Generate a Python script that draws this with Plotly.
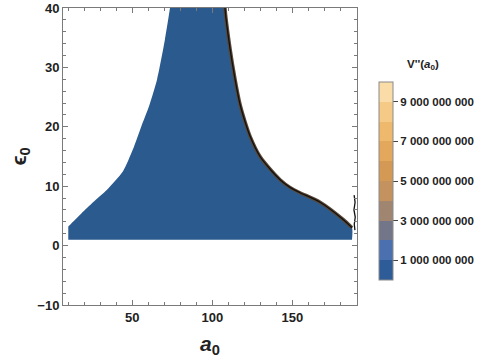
import plotly.graph_objects as go

# ---- data (a0, epsilon0) ----
left_a = [10.0, 10.0, 10.0, 19.2, 26.7, 34.2, 44.2, 50.4, 55.4, 60.5, 65.5, 70.4, 73.6, 74.0]
left_e = [1.0, 3.2, 3.2, 5.7, 7.6, 9.4, 12.5, 16.2, 19.9, 23.5, 28.0, 34.7, 40.1, 41.0]
right_a = [108.0, 107.9, 111.1, 114.2, 117.3, 120.4, 123.6, 129.8, 136.0, 142.3, 148.5,
           154.8, 167.3, 181.7, 187.3]
right_e = [41.0, 40.1, 33.1, 28.0, 23.8, 20.9, 18.4, 15.0, 12.9, 11.1, 9.8,
           8.9, 7.3, 4.4, 3.0]
base_e = 1.0
squig_a = [188.6, 189.2, 188.5, 189.3, 188.7, 189.1]
squig_e = [8.5, 7.3, 6.0, 4.8, 3.6, 2.6]

# colour levels of V''(a0)
levels = [0, 1e9, 2e9, 3e9, 4e9, 5e9, 6e9, 7e9, 8e9, 9e9, 1e10]
band_colors = ['#2e5c99', '#4a70b0', '#737689', '#a08570', '#c4925e',
               '#d49a55', '#e4a85c', '#eeb96d', '#f5ca86', '#f9dca7']
tick_vals = [1e9, 3e9, 5e9, 7e9, 9e9]
tick_text = ['1 000 000 000', '3 000 000 000', '5 000 000 000',
             '7 000 000 000', '9 000 000 000']
fill_color = '#2b5a8e'

W, H = 480, 362
ml, mr, mt, mb = 63, 123, 8, 57
pw, ph = W - ml - mr, H - mt - mb

fig = go.Figure()

poly_a = left_a + right_a + [right_a[-1], right_a[-1], left_a[0], left_a[0]]
poly_e = left_e + right_e + [base_e, base_e, base_e, base_e]
fig.add_trace(go.Scatter(x=poly_a, y=poly_e, fill='toself', fillcolor=fill_color,
                         mode='lines', line=dict(width=0, color=fill_color, shape='spline', smoothing=0.6),
                         hoverinfo='skip', showlegend=False))
fig.add_trace(go.Scatter(x=right_a, y=right_e, mode='lines',
                         line=dict(color='#5a4838', width=3.5, shape='spline', smoothing=0.6),
                         hoverinfo='skip', showlegend=False))
fig.add_trace(go.Scatter(x=right_a, y=right_e, mode='lines',
                         line=dict(color='#111111', width=1.3, shape='spline', smoothing=0.6),
                         hoverinfo='skip', showlegend=False))
fig.add_trace(go.Scatter(x=squig_a, y=squig_e, mode='lines',
                         line=dict(color='#111111', width=1.3), hoverinfo='skip', showlegend=False))

# stepped colour scale for the legend bar
zmin, zmax = levels[0], levels[-1]
cs = []
for i, c in enumerate(band_colors):
    cs.append([(levels[i] - zmin) / (zmax - zmin), c])
    cs.append([(levels[i + 1] - zmin) / (zmax - zmin), c])

bar_x = (379 - ml) / pw
bar_y = (305 - 280) / ph
bar_len = 198
bar_th = 14
fig.add_trace(go.Heatmap(
    x=[0, 1], y=[-60, -59], z=[[zmin, zmax], [zmin, zmax]],
    zmin=zmin, zmax=zmax, colorscale=cs, hoverinfo='skip',
    colorbar=dict(x=bar_x, xanchor='left', y=bar_y, yanchor='bottom',
                  len=bar_len, lenmode='pixels', thickness=bar_th, thicknessmode='pixels',
                  xpad=0, ypad=0, outlinewidth=1, outlinecolor='#8a8a8a',
                  tickvals=tick_vals, ticktext=tick_text, ticks='outside', ticklen=5,
                  tickcolor='#444', tickwidth=1,
                  tickfont=dict(family='Liberation Sans', size=11.5, color='#222', weight='bold'))))

shapes = []
for lv in levels[1:-1]:
    yp = bar_y + (lv - zmin) / (zmax - zmin) * bar_len / ph
    shapes.append(dict(type='line', xref='paper', yref='paper', x0=bar_x, x1=bar_x + bar_th / pw,
                       y0=yp, y1=yp, line=dict(color='#505050', width=1)))

tickfont = dict(family='Liberation Sans', size=13, color='#222', weight='bold')
axis_common = dict(showgrid=False, zeroline=False, showline=True, linecolor='#7a7a7a', linewidth=1,
                   mirror='ticks', ticks='inside', tickcolor='#7a7a7a', tickwidth=1, ticklen=5,
                   tickfont=tickfont)

fig.update_layout(
    width=W, height=H, margin=dict(l=ml, r=mr, t=mt, b=mb, autoexpand=False),
    paper_bgcolor='white', plot_bgcolor='white',
    xaxis=dict(range=[6.7, 190.4], tickvals=[50, 100, 150], ticktext=['50', '100', '150'],
               minor=dict(dtick=10, tick0=0, ticks='inside', ticklen=3, tickcolor='#7a7a7a'),
               **axis_common),
    yaxis=dict(range=[-10, 40], dtick=10,
               minor=dict(dtick=2, tick0=0, ticks='inside', ticklen=3, tickcolor='#7a7a7a'),
               **axis_common),
    shapes=shapes,
    annotations=[
        dict(text="<b><i>a</i><sub>0</sub></b>", xref='paper', yref='paper', x=0.5, y=(305 - 345) / ph,
             showarrow=False, xanchor='center', yanchor='middle',
             font=dict(family='Liberation Sans', size=21, color='#222')),
        dict(text="<b>ϵ<sub>0</sub></b>", xref='paper', yref='paper', x=(19 - ml) / pw, y=0.5,
             showarrow=False, xanchor='center', yanchor='middle', textangle=-90,
             font=dict(family='Liberation Sans', size=21, color='#222')),
        dict(text="<b>V''(<i>a</i><sub>0</sub>)</b>", xref='paper', yref='paper',
             x=(423 - ml) / pw, y=(305 - 65) / ph, showarrow=False, xanchor='center', yanchor='middle',
             font=dict(family='Liberation Sans', size=11.5, color='#222')),
    ],
)

fig.write_html("out.html", config={'displayModeBar': False},
               post_script="document.body.style.margin='0';document.body.style.padding='0';"
                           "document.documentElement.style.overflow='hidden';")
